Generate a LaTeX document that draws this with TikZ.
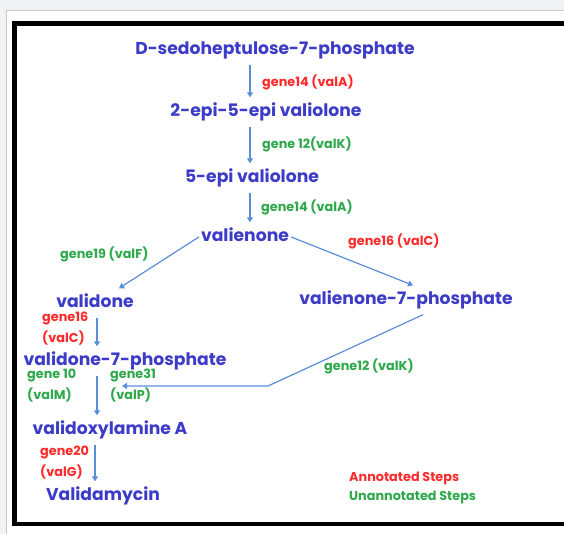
\documentclass[tikz,border=0pt]{standalone}
\usepackage{fontspec}
\setmainfont{Poppins}
\usepackage{xcolor}
\definecolor{vblue}{HTML}{3C3CC8}
\definecolor{varrow}{HTML}{5B8ED8}
\definecolor{vred}{HTML}{FF2A2A}
\definecolor{vgreen}{HTML}{2DA84A}
\definecolor{vpage}{HTML}{F1F2F4}
\usepackage{tikz}
\usetikzlibrary{arrows.meta}

\begin{document}
\begin{tikzpicture}[x=1pt,y=-1pt,>={Triangle[width=6pt,length=5pt]}]
\tikzset{
 m/.style={text=vblue,font=\fontsize{17.2}{19}\selectfont\bfseries,inner xsep=2pt,text height=12pt,text depth=3pt,inner ysep=7pt},
 g/.style={font=\fontsize{12.8}{21}\selectfont\bfseries,inner sep=0pt,anchor=west,align=left},
 a/.style={->,draw=varrow,line width=1.2pt}
}
\useasboundingbox (0,0) rectangle (564,534);
\fill[vpage] (0,0) rectangle (564,534);
\filldraw[fill=white,draw=black!22,line width=1pt] (6.5,10.5) rectangle (600,600);
\draw[line width=4.5pt] (14.3,23.3) rectangle (600,524);
% molecules
\node[m] (d7p) at (275,50) {D-sedoheptulose-7-phosphate};
\node[m] (epi25) at (266,112) {2-epi-5-epi valiolone};
\node[m] (epi5) at (252,178) {5-epi valiolone};
\node[m] (val) at (245,237) {valienone};
\node[m] (vdone) at (95,303) {validone};
\node[m] (v7p) at (406,300) {valienone-7-phosphate};
\node[m] (vd7p) at (125,361) {validone-7-phosphate};
\node[m] (vxa) at (110,430) {validoxylamine A};
\node[m] (vam) at (103,496) {Validamycin};
% genes
\node[g,vred] (g1) at (262,82) {gene14 (valA)};
\node[g,vgreen] (g2) at (262,144) {gene 12(valK)};
\node[g,vgreen] (g3) at (261,207) {gene14 (valA)};
\node[g,vgreen] (g4) at (60,254) {gene19 (valF)};
\node[g,vred] (g5) at (348,241) {gene16 (valC)};
\node[g,vred] (g6) at (42,329) {gene16\\(valC)};
\node[g,vgreen] (g7) at (324,366) {gene12 (valK)};
\node[g,vgreen] (g8) at (27,386) {gene 10\\(valM)};
\node[g,vgreen] (g9) at (110,386) {gene31\\(valP)};
\node[g,vred] (g10) at (40,463) {gene20\\(valG)};
\node[g,vred] (l1) at (349,478) {Annotated Steps};
\node[g,vgreen] (l2) at (349,497) {Unannotated Steps};
% arrows
\coordinate (ca) at (250,0);
\coordinate (cb) at (97,0);
\coordinate (cc) at (95,0);
\coordinate (bend) at (268,386);
\coordinate (tip) at (122,386);
\foreach \i/\j/\c in {d7p/epi25/ca,epi25/epi5/ca,epi5/val/ca,vdone/vd7p/cb,vd7p/vxa/cb,vxa/vam/cc}{\draw[a] (\i.south -| \c)--(\j.north -| \c);}
\draw[a] (val.west)--([xshift=24pt]vdone.north);
\draw[a] (val.east)--([xshift=7pt]v7p.north);
\draw[a] ([xshift=17pt]v7p.south)--(bend)--(tip);
\end{tikzpicture}
\end{document}
